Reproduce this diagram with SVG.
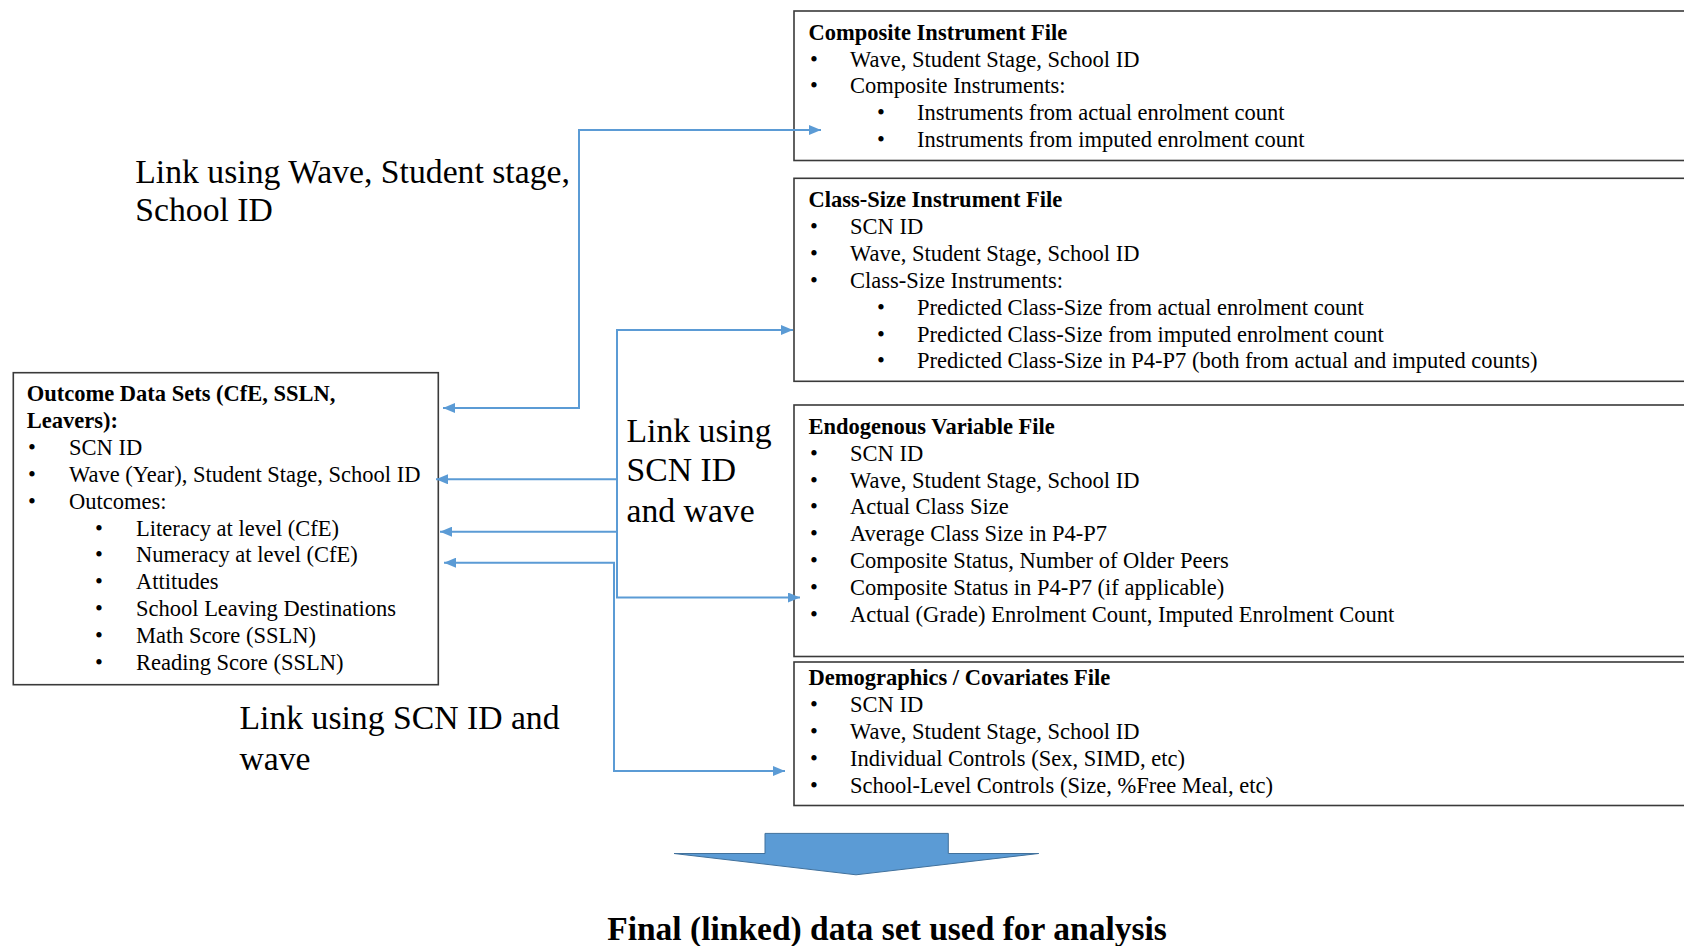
<svg xmlns="http://www.w3.org/2000/svg" width="1684" height="946" viewBox="0 0 1684 946">
<defs>
<style>
.box{fill:#fff;stroke:#3a3a3a;stroke-width:1.6}
.t{font-family:"Liberation Serif","Times New Roman",serif;font-size:22.5px;fill:#000}
.b{font-weight:bold}
.lbl{font-family:"Liberation Serif","Times New Roman",serif;font-size:33.7px;fill:#000}
.fin{font-family:"Liberation Serif","Times New Roman",serif;font-size:33.5px;font-weight:bold;fill:#000}
.conn{fill:none;stroke:#5B9BD5;stroke-width:2}
</style>
<marker id="ah" markerUnits="userSpaceOnUse" markerWidth="12" markerHeight="10" refX="12" refY="5" orient="auto-start-reverse" viewBox="0 0 12 10">
<path d="M0,0 L12,5 L0,10 z" fill="#5B9BD5"/>
</marker>
</defs>
<rect width="1684" height="946" fill="#fff"/>

<g id="composite">
<rect class="box" x="794" y="11" width="920" height="149.5"/>
<text class="t b" x="808.5" y="39.5">Composite Instrument File</text>
<text class="t" x="810" y="66.5">•</text><text class="t" x="850" y="66.5">Wave, Student Stage, School ID</text>
<text class="t" x="810" y="93.3">•</text><text class="t" x="850" y="93.3">Composite Instruments:</text>
<text class="t" x="877" y="120.1">•</text><text class="t" x="917" y="120.1">Instruments from actual enrolment count</text>
<text class="t" x="877" y="146.9">•</text><text class="t" x="917" y="146.9">Instruments from imputed enrolment count</text>
</g>

<g id="classsize">
<rect class="box" x="794" y="178.3" width="920" height="203"/>
<text class="t b" x="808.5" y="207.3">Class-Size Instrument File</text>
<text class="t" x="810" y="234.1">•</text><text class="t" x="850" y="234.1">SCN ID</text>
<text class="t" x="810" y="261">•</text><text class="t" x="850" y="261">Wave, Student Stage, School ID</text>
<text class="t" x="810" y="287.8">•</text><text class="t" x="850" y="287.8">Class-Size Instruments:</text>
<text class="t" x="877" y="314.7">•</text><text class="t" x="917" y="314.7">Predicted Class-Size from actual enrolment count</text>
<text class="t" x="877" y="341.5">•</text><text class="t" x="917" y="341.5">Predicted Class-Size from imputed enrolment count</text>
<text class="t" x="877" y="368.4">•</text><text class="t" x="917" y="368.4">Predicted Class-Size in P4-P7 (both from actual and imputed counts)</text>
</g>

<g id="endogenous">
<rect class="box" x="794" y="405" width="920" height="251.5"/>
<text class="t b" x="808.5" y="433.9">Endogenous Variable File</text>
<text class="t" x="810" y="460.7">•</text><text class="t" x="850" y="460.7">SCN ID</text>
<text class="t" x="810" y="487.6">•</text><text class="t" x="850" y="487.6">Wave, Student Stage, School ID</text>
<text class="t" x="810" y="514.4">•</text><text class="t" x="850" y="514.4">Actual Class Size</text>
<text class="t" x="810" y="541.3">•</text><text class="t" x="850" y="541.3">Average Class Size in P4-P7</text>
<text class="t" x="810" y="568.1">•</text><text class="t" x="850" y="568.1">Composite Status, Number of Older Peers</text>
<text class="t" x="810" y="595">•</text><text class="t" x="850" y="595">Composite Status in P4-P7 (if applicable)</text>
<text class="t" x="810" y="621.8">•</text><text class="t" x="850" y="621.8">Actual (Grade) Enrolment Count, Imputed Enrolment Count</text>
</g>

<g id="demographics">
<rect class="box" x="794" y="662" width="920" height="143.5"/>
<text class="t b" x="808.5" y="685.2">Demographics / Covariates File</text>
<text class="t" x="810" y="712">•</text><text class="t" x="850" y="712">SCN ID</text>
<text class="t" x="810" y="738.9">•</text><text class="t" x="850" y="738.9">Wave, Student Stage, School ID</text>
<text class="t" x="810" y="765.8">•</text><text class="t" x="850" y="765.8">Individual Controls (Sex, SIMD, etc)</text>
<text class="t" x="810" y="792.6">•</text><text class="t" x="850" y="792.6">School-Level Controls (Size, %Free Meal, etc)</text>
</g>

<g id="outcome">
<rect class="box" x="13.3" y="372.7" width="425" height="312"/>
<text class="t b" x="26.7" y="401">Outcome Data Sets (CfE, SSLN,</text>
<text class="t b" x="26.7" y="427.8">Leavers):</text>
<text class="t" x="28" y="455">•</text><text class="t" x="69" y="455">SCN ID</text>
<text class="t" x="28" y="481.9">•</text><text class="t" x="69" y="481.9">Wave (Year), Student Stage, School ID</text>
<text class="t" x="28" y="508.7">•</text><text class="t" x="69" y="508.7">Outcomes:</text>
<text class="t" x="95" y="535.6">•</text><text class="t" x="136" y="535.6">Literacy at level (CfE)</text>
<text class="t" x="95" y="562.4">•</text><text class="t" x="136" y="562.4">Numeracy at level (CfE)</text>
<text class="t" x="95" y="589.3">•</text><text class="t" x="136" y="589.3">Attitudes</text>
<text class="t" x="95" y="616.1">•</text><text class="t" x="136" y="616.1">School Leaving Destinations</text>
<text class="t" x="95" y="643">•</text><text class="t" x="136" y="643">Math Score (SSLN)</text>
<text class="t" x="95" y="669.8">•</text><text class="t" x="136" y="669.8">Reading Score (SSLN)</text>
</g>

<g id="connectors">
<path class="conn" d="M443,408 H579 V130 H821" marker-start="url(#ah)" marker-end="url(#ah)"/>
<path class="conn" d="M793,330 H617 V597.5 H800" marker-start="url(#ah)" marker-end="url(#ah)"/>
<path class="conn" d="M617,479.3 H436" marker-end="url(#ah)"/>
<path class="conn" d="M617,531.7 H440" marker-end="url(#ah)"/>
<path class="conn" d="M444,562.7 H614 V771 H785" marker-start="url(#ah)" marker-end="url(#ah)"/>
</g>

<g id="labels">
<text class="lbl" x="135.3" y="182.6">Link using Wave, Student stage,</text>
<text class="lbl" x="135.3" y="221.3">School ID</text>
<text class="lbl" x="626.5" y="441.5">Link using</text>
<text class="lbl" x="626.5" y="481">SCN ID</text>
<text class="lbl" x="626.5" y="521.5">and wave</text>
<text class="lbl" x="239.5" y="728.5">Link using SCN ID and</text>
<text class="lbl" x="239.5" y="770">wave</text>
</g>

<g id="bigarrow">
<polygon points="674,853.5 765,853.5 765,833.4 948.3,833.4 948.3,853.5 1038.7,853.5 856,874.8" fill="#5B9BD5" stroke="#41719C" stroke-width="1"/>
</g>

<g id="final">
<text class="fin" x="887" y="940" text-anchor="middle">Final (linked) data set used for analysis</text>
</g>
</svg>
